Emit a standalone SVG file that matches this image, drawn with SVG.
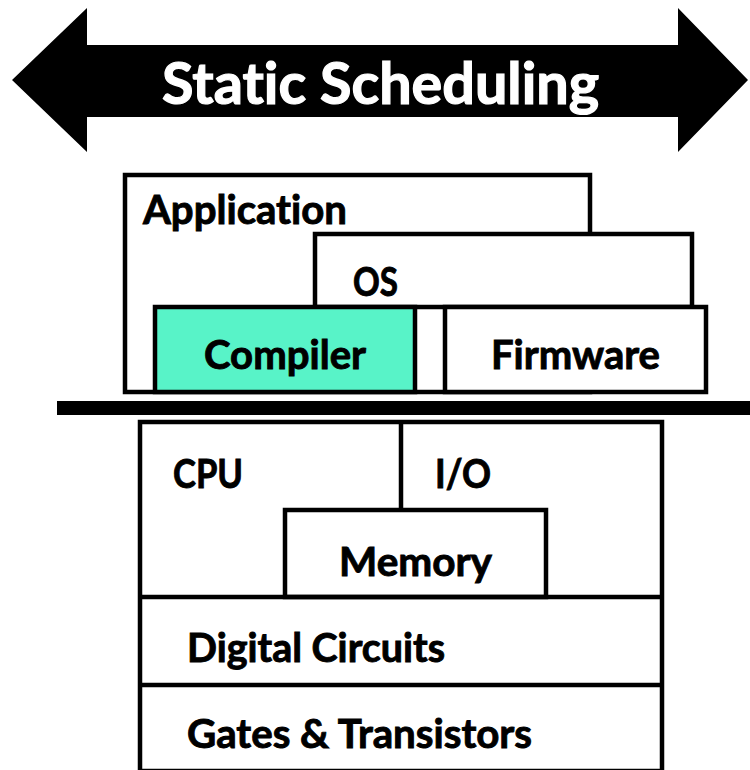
<svg xmlns="http://www.w3.org/2000/svg" width="750" height="770" viewBox="0 0 750 770">
  <style>
    .box { fill: #ffffff; stroke: #000000; stroke-width: 4.5; }
    .ln { stroke: #000000; stroke-width: 4.5; fill: none; }
    .lbl { font-family: Lato, "Open Sans", "Liberation Sans", sans-serif; font-weight: bold; font-size: 40px; fill: #000000; stroke: #000000; stroke-width: 0.9; font-variant-ligatures: none; }
    .title { font-family: Lato, "Open Sans", "Liberation Sans", sans-serif; font-weight: bold; font-size: 57px; fill: #ffffff; stroke: #ffffff; stroke-width: 1.2; font-variant-ligatures: none; }
  </style>
  <rect x="0" y="0" width="750" height="770" fill="#ffffff"/>

  <g id="scheduling-arrow">
    <polygon points="12,80 87,8 87,45 678,45 678,8 748,80 678,152 678,117 87,117 87,152" fill="#000000"/>
    <text class="title" x="162" y="104" textLength="437" lengthAdjust="spacingAndGlyphs">Static Scheduling</text>
  </g>

  <g id="application">
    <rect class="box" x="125" y="175" width="465" height="217"/>
    <text class="lbl" x="143" y="224" textLength="204" lengthAdjust="spacingAndGlyphs">Application</text>
  </g>

  <g id="os">
    <rect class="box" x="315" y="234" width="377" height="73"/>
    <text class="lbl" x="353" y="296" textLength="45" lengthAdjust="spacingAndGlyphs">OS</text>
  </g>

  <g id="compiler">
    <rect class="box" x="155" y="307" width="260" height="85" style="fill:#58F3C8"/>
    <text class="lbl" x="204" y="369" textLength="162" lengthAdjust="spacingAndGlyphs">Compiler</text>
  </g>

  <g id="firmware">
    <rect class="box" x="445" y="307" width="261" height="85"/>
    <text class="lbl" x="491" y="369" textLength="169" lengthAdjust="spacingAndGlyphs">Firmware</text>
  </g>

  <g id="interface-bar">
    <rect x="57" y="401" width="693" height="14" fill="#000000"/>
  </g>

  <g id="hardware">
    <rect class="box" x="140" y="422" width="522" height="349"/>
  </g>

  <g id="cpu">
    <text class="lbl" x="173" y="488" textLength="70" lengthAdjust="spacingAndGlyphs">CPU</text>
  </g>

  <g id="io">
    <text class="lbl" x="435" y="488" textLength="56" lengthAdjust="spacingAndGlyphs">I/O</text>
  </g>

  <g id="memory">
    <rect class="box" x="285" y="510" width="261" height="87"/>
    <text class="lbl" x="339" y="576" textLength="153" lengthAdjust="spacingAndGlyphs">Memory</text>
  </g>

  <g id="digital-circuits">
    <text class="lbl" x="187" y="662" textLength="258" lengthAdjust="spacingAndGlyphs">Digital Circuits</text>
  </g>

  <g id="gates-transistors">
    <text class="lbl" x="187" y="748" textLength="345" lengthAdjust="spacingAndGlyphs">Gates &amp; Transistors</text>
  </g>

  <g id="connectors">
    <line class="ln" x1="401" y1="422" x2="401" y2="510"/>
    <line class="ln" x1="140" y1="597" x2="662" y2="597"/>
    <line class="ln" x1="140" y1="685" x2="662" y2="685"/>
  </g>
</svg>
